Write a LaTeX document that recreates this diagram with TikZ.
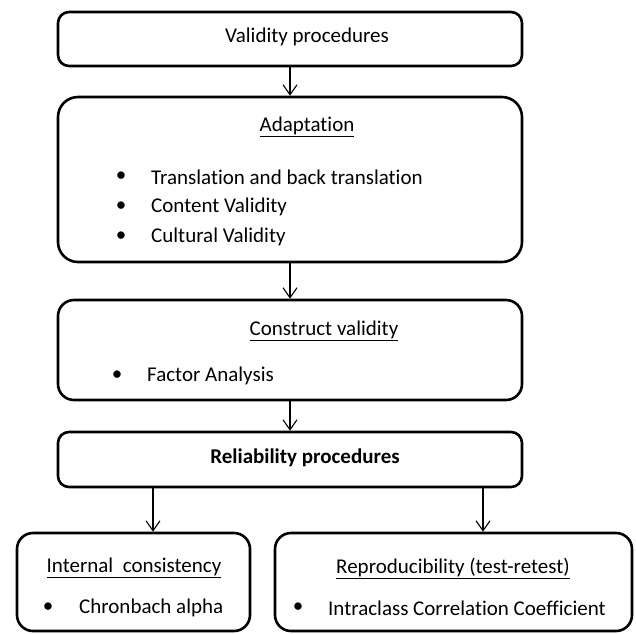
\documentclass[tikz,border=0pt]{standalone}
\usepackage{fontspec}
\setmainfont{Carlito}[Ligatures=CommonOff]
\usetikzlibrary{arrows.meta}
\begin{document}
\begin{tikzpicture}[x=1pt,y=-1pt,
  box/.style={draw=black,line width=2.6pt,rounded corners=11pt,minimum width=464pt,inner sep=0pt},
  txt/.style={inner sep=0pt,font=\fontsize{21}{25}\selectfont},
  conn/.style={line width=1.1pt,-{Straight Barb[length=10pt,width=14pt,line width=1.1pt]}}]
\useasboundingbox (0,0) rectangle (636,633);
\node[box,minimum height=54pt] (b1) at (290,39) {};
\node[box,minimum height=165pt,rounded corners=20pt] (b2) at (290,179.5) {};
\node[box,minimum height=100pt,rounded corners=16pt] (b3) at (290,350) {};
\node[box,minimum height=55pt] (b4) at (290,459.5) {};
\node[box,minimum width=233pt,minimum height=98pt,rounded corners=16pt] (b5) at (133.5,582) {};
\node[box,minimum width=357pt,minimum height=98pt,rounded corners=16pt] (b6) at (453.5,582) {};
% texts
\node[txt] (t1) at (307,37) {Validity procedures};
\node[txt] (t2) at (307,127) {\underline{Adaptation}};
\node[txt] (u21) at (121,177) {\textbullet};
\node[txt,anchor=west] (t21) at (151,177) {Translation and back translation};
\node[txt] (u22) at (121,207) {\textbullet};
\node[txt,anchor=west] (t22) at (151,207) {Content Validity};
\node[txt] (u23) at (121,237) {\textbullet};
\node[txt,anchor=west] (t23) at (151,237) {Cultural Validity};
\node[txt] (t3) at (324,331) {\underline{Construct validity}};
\node[txt] (u31) at (117,376) {\textbullet};
\node[txt,anchor=west] (t31) at (147,376) {Factor Analysis};
\node[txt] (t4) at (305,458) {\textbf{Reliability procedures}};
\node[txt] (t5) at (134,568) {\underline{Internal\ \ consistency}};
\node[txt] (u51) at (48,608) {\textbullet};
\node[txt,anchor=west] (t51) at (79,608) {Chronbach alpha};
\node[txt] (t6) at (453,568) {\underline{Reproducibility (test-retest)}};
\node[txt] (u61) at (298,608) {\textbullet};
\node[txt,anchor=west] (t61) at (328,608) {Intraclass Correlation Coefficient};
% connectors
\draw[conn] (b1.south) -- (b2.north);
\draw[conn] (b2.south) -- (b3.north);
\draw[conn] (b3.south) -- (b4.north);
\coordinate (a5) at (153,0);
\coordinate (a6) at (483,0);
\draw[conn] (b4.south -| a5) -- (b5.north -| a5);
\draw[conn] (b4.south -| a6) -- (b6.north -| a6);
\end{tikzpicture}
\end{document}
